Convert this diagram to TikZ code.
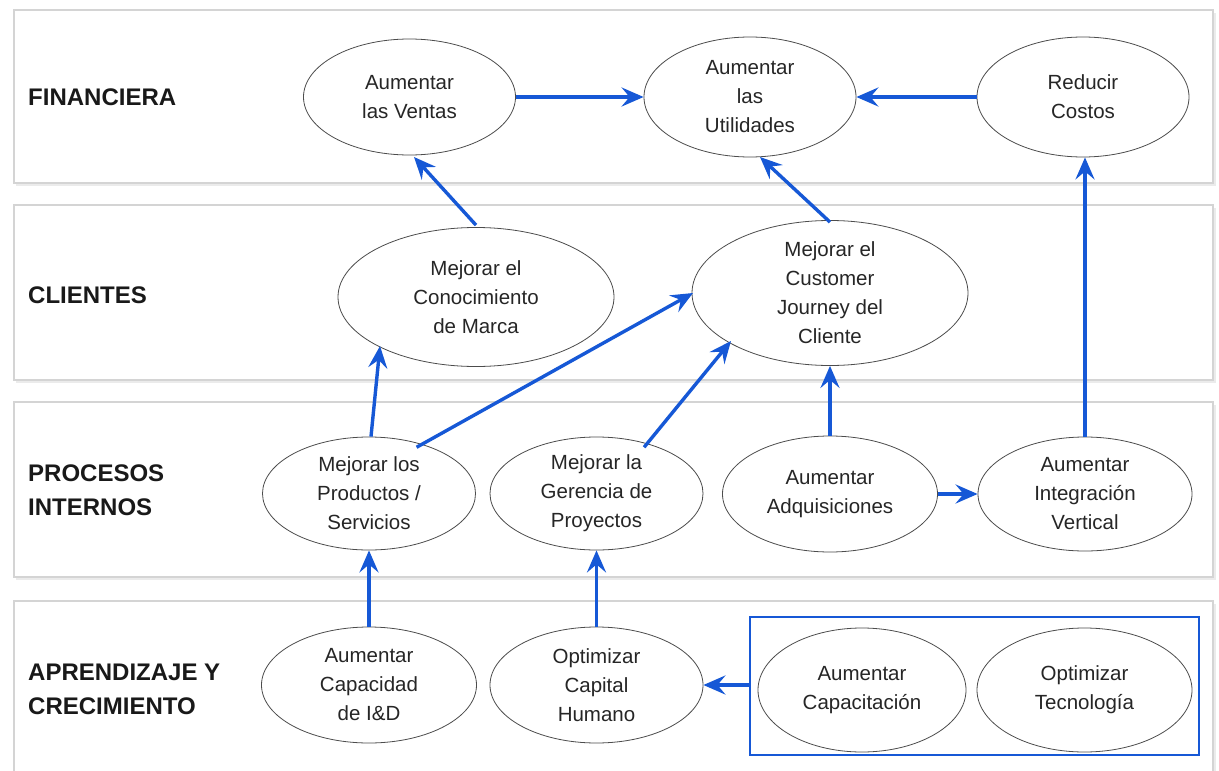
\documentclass[tikz,border=0pt]{standalone}
\usepackage{fontspec}
\setmainfont{Liberation Sans}
\usetikzlibrary{arrows.meta,shapes.geometric}
\definecolor{linkblue}{RGB}{22,88,214}
\definecolor{bandline}{RGB}{212,212,212}
\tikzset{
  band/.style={draw=bandline, line width=1.2pt, fill=white},
  bandshadow/.style={fill=black!8, draw=none},
  goal/.style={ellipse, draw=black!70, line width=0.8pt, fill=white, inner sep=0pt,
    align=center, font=\fontsize{20.5}{29}\selectfont, text=black!85},
  perspective/.style={anchor=west, inner sep=0pt, align=left, font=\fontsize{24}{34}\selectfont\bfseries, text=black!90},
  link/.style={draw=linkblue, line width=3.4pt, -{Stealth[inset=8pt, length=22pt, width=19pt]}},
  groupbox/.style={draw=linkblue, line width=2.2pt, fill=white}
}
\begin{document}
\begin{tikzpicture}[x=1pt, y=-1pt]
\useasboundingbox (0,0) rectangle (1219,771);
\fill[white] (0,0) rectangle (1219,771);

% perspective bands with a soft drop shadow
\foreach \top/\bot in {10/183, 205/380, 402/577, 601/790} {
  \fill[bandshadow] (16,\top+3) rectangle (1216,\bot+3);
  \draw[band] (14,\top) rectangle (1213,\bot);
}

% perspective labels
\node[perspective] (lfin) at (28,97) {FINANCIERA};
\node[perspective] (lcli) at (28,295) {CLIENTES};
\node[perspective] (lpro) at (28,490) {PROCESOS\\INTERNOS};
\node[perspective] (lapr) at (28,689) {APRENDIZAJE Y\\CRECIMIENTO};

% grouping frame of the learning objectives
\draw[groupbox] (750,617) rectangle (1199,755);
\coordinate (grp) at (750,685);

% financial objectives
\node[goal, minimum width=212pt, minimum height=116pt] (ventas) at (409.5,97) {Aumentar\\las Ventas};
\node[goal, minimum width=212pt, minimum height=120pt] (util) at (750,97) {Aumentar\\las\\Utilidades};
\node[goal, minimum width=212pt, minimum height=120pt] (costos) at (1083,97) {Reducir\\Costos};

% customer objectives
\node[goal, minimum width=276pt, minimum height=139pt] (marca) at (476,297) {Mejorar el\\Conocimiento\\de Marca};
\node[goal, minimum width=276pt, minimum height=145pt] (journey) at (830,293) {Mejorar el\\Customer\\Journey del\\Cliente};

% internal process objectives
\node[goal, minimum width=213pt, minimum height=113pt] (prod) at (369,493.5) {Mejorar los\\Productos /\\Servicios};
\node[goal, minimum width=213pt, minimum height=113pt] (ger) at (596.5,493.5) {Mejorar la\\Gerencia de\\Proyectos};
\node[goal, minimum width=215pt, minimum height=116pt] (adq) at (830,494) {Aumentar\\Adquisiciones};
\node[goal, minimum width=214pt, minimum height=114pt] (integ) at (1085,494) {Aumentar\\Integración\\Vertical};

% learning and growth objectives
\node[goal, minimum width=215pt, minimum height=116pt] (id) at (369,685) {Aumentar\\Capacidad\\de I\&D};
\node[goal, minimum width=213pt, minimum height=116pt] (capital) at (596.5,685) {Optimizar\\Capital\\Humano};
\node[goal, minimum width=208pt, minimum height=124pt] (capac) at (862,690) {Aumentar\\Capacitación};
\node[goal, minimum width=215pt, minimum height=124pt] (tecno) at (1084.5,690) {Optimizar\\Tecnología};

% cause-and-effect links
\draw[link] (ventas) -- (util);
\draw[link] (costos) -- (util);
\draw[link] (marca.north) ++(0,-2) -- (414,157);
\draw[link] (journey.north) ++(0,2) -- (760,157);
\draw[link] (integ.north) -- (costos.south -| integ.north);
\draw[link] (prod.north) ++(2,0) -- (380,346);
\draw[link] (prod.north east) ++(-28,-6) -- (693,293);
\draw[link] (ger.north east) ++(-28,-6) -- (731,341);
\draw[link] (adq.north) -- (journey.south);
\draw[link] (adq.east) -- (integ.west);
\draw[link] (id.north) -- (prod.south);
\draw[link] (capital.north) -- (ger.south);
\draw[link] (grp) -- (capital.east);
\end{tikzpicture}
\end{document}
